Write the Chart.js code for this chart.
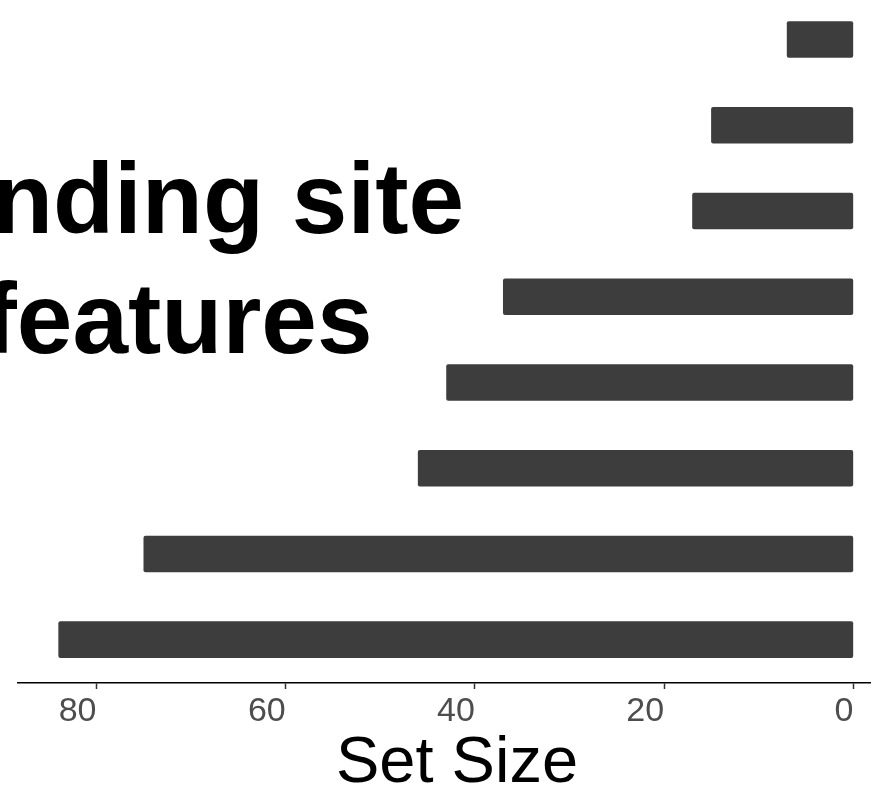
<!DOCTYPE html>
<html>
<head>
<meta charset="utf-8">
<script src="https://cdn.jsdelivr.net/npm/chart.js@4"></script>
<style>
    html, body { margin: 0; padding: 0; background: #ffffff; overflow: hidden; }
    #wrap { position: relative; width: 872px; height: 793px; }
    #title {
        position: absolute; left: -122px; top: 138px; width: 600px;
        text-align: center; font-family: 'Liberation Sans', Arial, sans-serif;
        font-weight: bold; font-size: 100px; line-height: 120px; color: #000;
        white-space: nowrap; pointer-events: none;
    }
</style>
</head>
<body>
<div id="wrap">
    <canvas id="setChart" width="872" height="793"></canvas>
    <div id="title">Binding site<br>features</div>
</div>
<script>
// Conjuntos, de cima para baixo
const setNames = ['set1', 'set2', 'set3', 'set4', 'set5', 'set6', 'set7', 'set8'];
const setSizes = [7, 15, 17, 37, 43, 46, 75, 84];
const tickValues = [0, 20, 40, 60, 80];
const axisTitle = 'Set Size';

document.addEventListener('DOMContentLoaded', function() {

    // Título do eixo X desenhado um pouco à direita do centro (como no original)
    const axisTitlePlugin = {
        id: 'axisTitle',
        afterDraw: function(chart) {
            const c = chart.ctx;
            c.save();
            c.fillStyle = '#000000';
            c.font = '65px "Liberation Sans", Arial, sans-serif';
            c.textAlign = 'center';
            c.textBaseline = 'alphabetic';
            c.fillText(axisTitle, 457, 782);
            c.restore();
        }
    };

    // Gráfico de barras horizontais com eixo invertido
    function createSetSizeChart() {
        const ctx = document.getElementById('setChart').getContext('2d');
        new Chart(ctx, {
            type: 'bar',
            data: {
                datasets: [{
                    label: axisTitle,
                    data: setSizes.map((v, i) => ({ x: v, y: i, name: setNames[i] })),
                    backgroundColor: '#3d3d3d',
                    borderRadius: 2,
                    borderSkipped: false,
                    barThickness: 36
                }]
            },
            options: {
                indexAxis: 'y',
                responsive: false,
                animation: false,
                layout: { padding: { left: 18, right: 2, top: 0, bottom: 0 } },
                plugins: {
                    legend: { display: false },
                    tooltip: { enabled: false }
                },
                scales: {
                    x: {
                        type: 'linear',
                        position: 'bottom',
                        reverse: true,
                        min: -1.76,
                        max: 88.3,
                        afterBuildTicks: function(scale) {
                            scale.ticks = tickValues.map(v => ({ value: v }));
                        },
                        afterFit: function(scale) {
                            scale.height = 110;
                        },
                        grid: {
                            drawOnChartArea: false,
                            drawTicks: true,
                            tickLength: 6,
                            tickWidth: 1.5,
                            tickColor: '#333333'
                        },
                        border: { display: true, color: '#000000', width: 1.5 },
                        ticks: {
                            padding: 6,
                            align: 'end',
                            color: '#4d4d4d',
                            maxRotation: 0,
                            autoSkip: false,
                            font: { family: 'Liberation Sans', size: 34, lineHeight: 1 }
                        },
                        title: { display: false }
                    },
                    y: {
                        type: 'linear',
                        display: false,
                        offset: false,
                        grid: { offset: false },
                        reverse: true,
                        min: -0.461,
                        max: 7.505
                    }
                }
            },
            plugins: [axisTitlePlugin]
        });
    }

    createSetSizeChart();
});
</script>
</body>
</html>
